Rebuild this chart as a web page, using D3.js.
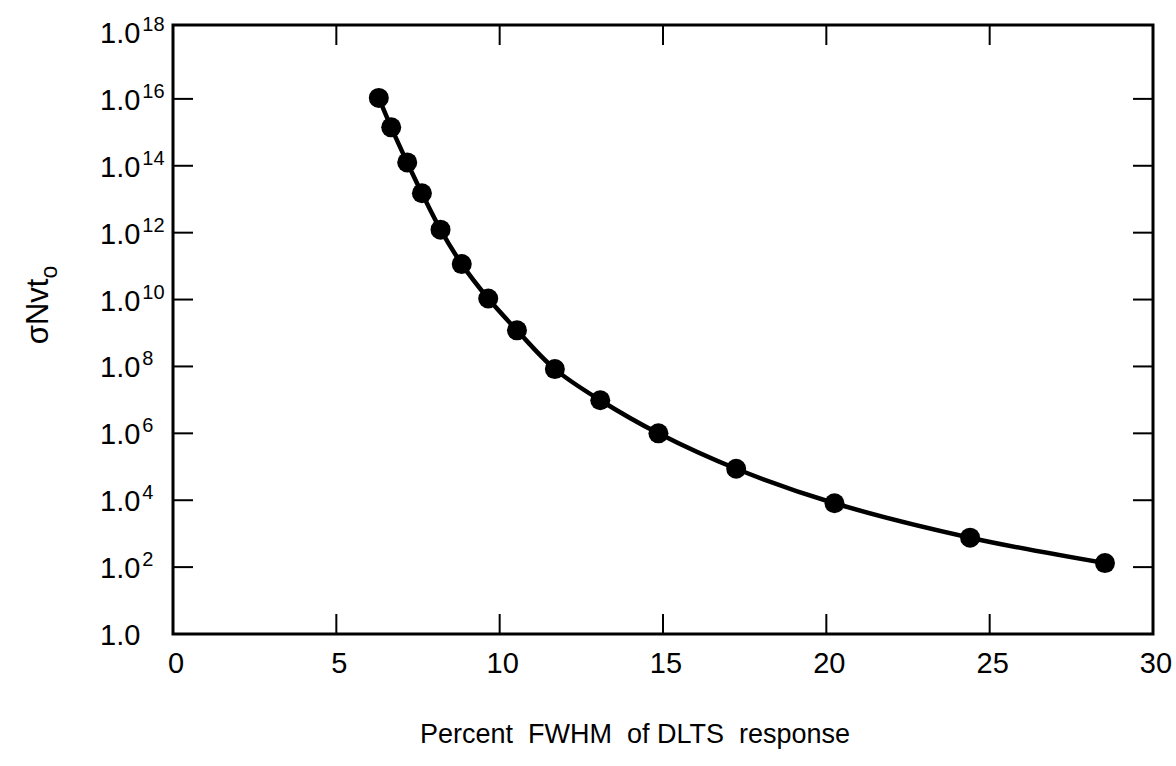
<!DOCTYPE html>
<html><head><meta charset="utf-8">
<script src="https://cdn.jsdelivr.net/npm/d3@7"></script>
<style>
html,body{margin:0;padding:0;background:#fff;}
text{font-family:"Liberation Sans",Arial,Helvetica,sans-serif;fill:#000;}
</style></head>
<body><svg id="c" width="1176" height="766"></svg>
<script>
// Data
const fwhm = [6.30, 6.68, 7.17, 7.62, 8.19, 8.84, 9.65, 10.53, 11.69, 13.08, 14.86, 17.24, 20.25, 24.40, 28.53];
const logValue = [16.03, 15.15, 14.10, 13.18, 12.09, 11.06, 10.03, 9.08, 7.92, 6.99, 6.00, 4.94, 3.91, 2.88, 2.12];
const sigmaNvt = logValue.map(v => Math.pow(10, v));
const xTicks = [0, 5, 10, 15, 20, 25, 30];
const yTickExps = [0, 2, 4, 6, 8, 10, 12, 14, 16, 18];
const xTitle = "Percent  FWHM  of DLTS  response";

const svg = d3.select("#c");
const x = d3.scaleLinear().domain([0, 30]).range([173, 1153]);
const y = d3.scaleLog().domain([1, 1e18]).range([634, 32]);

const pLeft = x(0), pRight = x(30), pBottom = y(1), pTop = y(1e18) - 7;

// frame
svg.append("rect").attr("x", pLeft).attr("y", pTop).attr("width", pRight - pLeft).attr("height", pBottom - pTop)
  .attr("fill", "none").attr("stroke", "#000").attr("stroke-width", 3);

const tickLen = 20;
// x ticks bottom & top
xTicks.slice(1, -1).forEach(t => {
  svg.append("line").attr("x1", x(t)).attr("x2", x(t)).attr("y1", pBottom).attr("y2", pBottom - tickLen).attr("stroke", "#000").attr("stroke-width", 2);
  svg.append("line").attr("x1", x(t)).attr("x2", x(t)).attr("y1", pTop).attr("y2", pTop + tickLen).attr("stroke", "#000").attr("stroke-width", 2);
});
xTicks.forEach(t => {
  svg.append("text").attr("x", x(t) + 3).attr("y", pBottom + 39).attr("text-anchor", "middle")
    .attr("font-size", 29).text(t);
});
// y ticks left & right
yTickExps.slice(1, -1).forEach(e => {
  const v = Math.pow(10, e);
  svg.append("line").attr("x1", pLeft).attr("x2", pLeft + tickLen).attr("y1", y(v)).attr("y2", y(v)).attr("stroke", "#000").attr("stroke-width", 2);
  svg.append("line").attr("x1", pRight).attr("x2", pRight - tickLen).attr("y1", y(v)).attr("y2", y(v)).attr("stroke", "#000").attr("stroke-width", 2);
});
yTickExps.forEach(e => {
  const v = Math.pow(10, e);
  const t = svg.append("text").attr("x", 100).attr("y", y(v) + 11).attr("font-size", 29);
  t.append("tspan").text("1.0");
  if (e > 0) t.append("tspan").attr("dy", -12).attr("dx", 2).attr("font-size", 20).text(e);
});

// curve
const line = d3.line().x(d => x(d[0])).y(d => y(d[1])).curve(d3.curveCatmullRom.alpha(0.5));
const pts = fwhm.map((f, i) => [f, sigmaNvt[i]]);
svg.append("path").attr("d", line(pts)).attr("fill", "none").attr("stroke", "#000").attr("stroke-width", 4.5);
svg.selectAll("circle.pt").data(pts).enter().append("circle")
  .attr("cx", d => x(d[0])).attr("cy", d => y(d[1])).attr("r", 10).attr("fill", "#000");

// axis titles
svg.append("text").attr("x", 635).attr("y", 743).attr("text-anchor", "middle")
  .attr("font-size", 27).attr("xml:space", "preserve").style("white-space", "pre").text(xTitle);
const yt = svg.append("text").attr("transform", "translate(48,305) rotate(-90)").attr("text-anchor", "middle").attr("font-size", 31);
yt.append("tspan").text("σNvt");
yt.append("tspan").attr("dy", 9).attr("font-size", 23).text("o");
</script></body></html>
